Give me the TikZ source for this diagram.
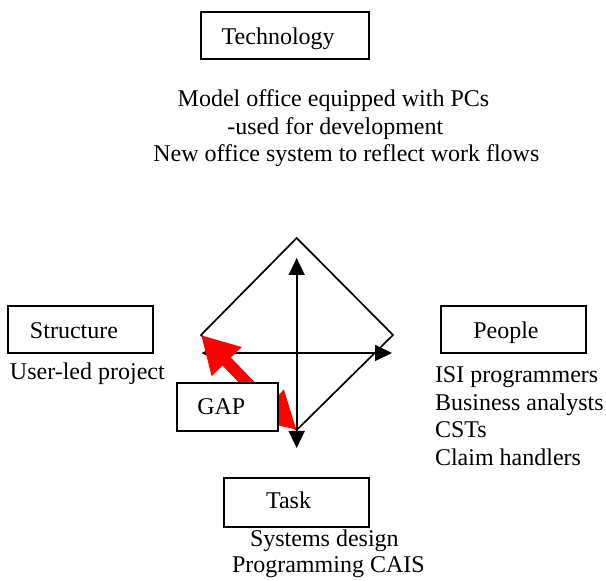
\documentclass[tikz,border=0pt]{standalone}
\usepackage{fontspec}
\setmainfont[Ligatures=NoCommon]{Liberation Serif}
\usetikzlibrary{arrows.meta}
\definecolor{gapred}{RGB}{255,0,0}
\begin{document}
\begin{tikzpicture}[x=0.5pt,y=-0.5pt,
  every node/.style={inner sep=0pt, outer sep=0pt},
  txt/.style={font=\fontsize{12}{14}\selectfont, anchor=base west},
  box/.style={draw, line width=1pt, anchor=north west, fill=white},
  edge/.style={line width=0.85pt},
  axisarrow/.style={line width=0.85pt,
    {Triangle[length=8.5pt,width=8pt]}-{Triangle[length=8.5pt,width=8pt]}},
  gaparrow/.style={draw=gapred, line width=5.8pt,
    -{Triangle[length=18.5pt,width=19.5pt]}},
]
\useasboundingbox (0,0) rectangle (606,581);

% corners of the diamond and ends of the two axes
\coordinate (dT) at (296.7,238);
\coordinate (dR) at (393,335);
\coordinate (dB) at (296.7,430);
\coordinate (dL) at (201,335);
\coordinate (vT) at (296.7,258);
\coordinate (vB) at (296.7,448);
\coordinate (hL) at (201.5,353);
\coordinate (hR) at (392,353);
\coordinate (gapsrc) at (258,394);

% diamond and axes
\draw[edge, line join=miter] (dT) -- (dR) -- (dB) -- (dL) -- cycle;
\draw[axisarrow] (vT) -- (vB);
\draw[axisarrow] (hL) -- (hR);

% the gap arrows, partly hidden by the GAP box
\draw[gaparrow] (gapsrc) -- (dL);
\draw[gaparrow] (gapsrc) -- (dB);

% boxes
\node[box, minimum width=84.3pt, minimum height=23.8pt] (tech) at (200.7,11.7) {};
\node[box, minimum width=72.5pt, minimum height=23.8pt] (struct) at (8.3,305.7) {};
\node[box, minimum width=72.65pt, minimum height=23.8pt] (people) at (440.7,305.7) {};
\node[box, minimum width=72.35pt, minimum height=24.2pt] (task) at (224.3,478.3) {};
\node[box, minimum width=50.65pt, minimum height=23.85pt] (gap) at (177,383.3) {};

% box labels
\node[txt] (techtxt) at (221.7,45) {Technology};
\node[txt] (structtxt) at (30,338.3) {Structure};
\node[txt] (peopletxt) at (473.3,338.3) {People};
\node[txt] (tasktxt) at (266,509) {Task};
\node[txt] (gaptxt) at (197.3,415) {GAP};

% notes
\node[txt] (t1) at (177.7,106.7) {Model office equipped with PCs};
\node[txt] (t2) at (227.3,135) {-used for development};
\node[txt] (t3) at (153.3,161.7) {New office system to reflect work flows};
\node[txt] (s1) at (10,380) {User-led project};
\node[txt] (p1) at (435,383) {ISI programmers};
\node[txt] (p2) at (435,410.5) {Business analysts};
\node[txt] (p3) at (435,438) {CSTs};
\node[txt] (p4) at (435,465.5) {Claim handlers};
\node[txt] (k1) at (250,546.7) {Systems design};
\node[txt] (k2) at (232,573) {Programming CAIS};
\end{tikzpicture}
\end{document}
